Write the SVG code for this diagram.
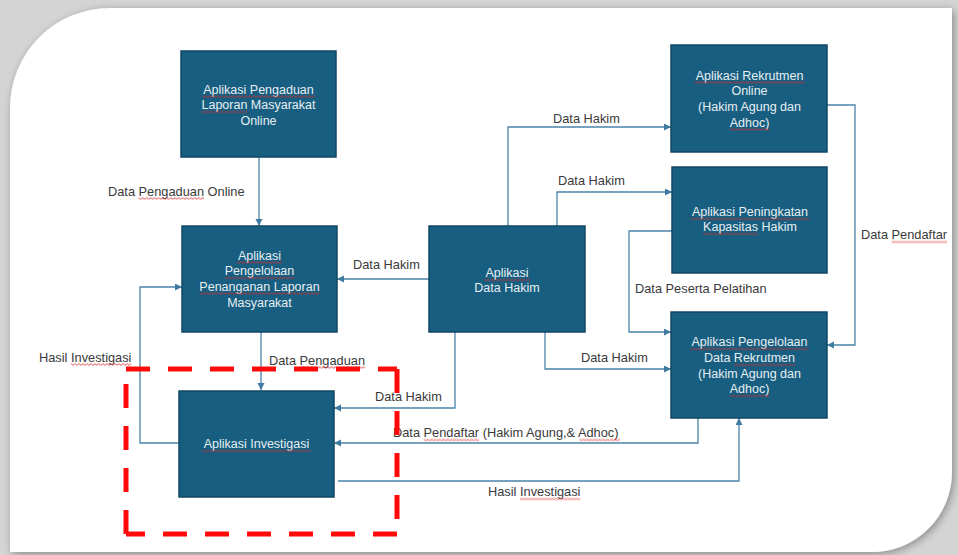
<svg xmlns="http://www.w3.org/2000/svg" width="958" height="555" viewBox="0 0 958 555">
<defs>
<filter id="sh" x="-5%" y="-5%" width="110%" height="110%">
<feGaussianBlur in="SourceAlpha" stdDeviation="4"/>
<feOffset dx="2" dy="2"/>
<feComponentTransfer><feFuncA type="linear" slope="0.35"/></feComponentTransfer>
<feMerge><feMergeNode/><feMergeNode in="SourceGraphic"/></feMerge>
</filter>
<marker id="ah" markerUnits="userSpaceOnUse" markerWidth="8" markerHeight="8" refX="7" refY="3.5" orient="auto">
<path d="M0,0 L7,3.5 L0,7 Z" fill="#3f7aa0"/>
</marker>
<pattern id="sq" width="4" height="3" patternUnits="userSpaceOnUse">
<path d="M0,0.6 L2,2.4 L4,0.6" fill="none" stroke="#e02828" stroke-width="0.8"/>
</pattern>
<style>
.box{fill:#175e80;stroke:#124764;stroke-width:1.5}
.bt{font-family:"Liberation Sans",Arial,sans-serif;font-size:12.5px;fill:#e8eef2;text-anchor:middle}
.lb{font-family:"Liberation Sans",Arial,sans-serif;font-size:12.8px;fill:#3a3a3a}
.cn{fill:none;stroke:#4a84aa;stroke-width:1.3;marker-end:url(#ah)}
.cn0{fill:none;stroke:#4a84aa;stroke-width:1.3}
.red{fill:none;stroke:#ff0a0a;stroke-width:5;stroke-dasharray:24 18}
</style>
</defs>
<rect x="0" y="0" width="958" height="555" fill="#d4d4d4"/>
<path d="M110,8 H958 V0 H958 V8 H952 V472 A80,80 0 0 1 872,552 H10 V108 A100,100 0 0 1 110,8 Z" fill="#ffffff" filter="url(#sh)"/>

<g id="connectors">
<path class="cn" d="M259,157 V226"/>
<path class="cn" d="M429,279 H337"/>
<path class="cn" d="M508,226 V127 H671"/>
<path class="cn" d="M557,226 V192 H672"/>
<path class="cn" d="M545,332 V369 H671"/>
<path class="cn" d="M455,332 V408 H334"/>
<path class="cn" d="M672,231 H629 V332 H671"/>
<path class="cn" d="M827,105 H855 V345 H827"/>
<path class="cn" d="M698,418 V443 H334"/>
<path class="cn" d="M338,481 H739 V418"/>
<path class="cn" d="M179,443 H140 V287 H182"/>
<path class="cn" d="M261,332 V390"/>
</g>

<g id="labels">
<text class="lb" x="108" y="195.5">Data Pengaduan Online</text>
<rect transform="translate(138.6,197)" width="65.5" height="3" fill="url(#sq)"/>
<text class="lb" x="353" y="268.5">Data Hakim</text>
<text class="lb" x="553" y="122.5">Data Hakim</text>
<text class="lb" x="558" y="184.5">Data Hakim</text>
<text class="lb" x="581" y="361.5">Data Hakim</text>
<text class="lb" x="375" y="400.5">Data Hakim</text>
<text class="lb" x="635" y="292.5">Data Peserta Pelatihan</text>
<text class="lb" x="861" y="239">Data Pendaftar</text>
<rect transform="translate(891.6,240.5)" width="55.5" height="3" fill="url(#sq)"/>
<text class="lb" x="393" y="437">Data Pendaftar (Hakim Agung,&amp; Adhoc)</text>
<rect transform="translate(423.6,438.5)" width="55.5" height="3" fill="url(#sq)"/>
<rect transform="translate(579.4,438.5)" width="40.5" height="3" fill="url(#sq)"/>
<text class="lb" x="488" y="496">Hasil Investigasi</text>
<rect transform="translate(520,497.5)" width="60.5" height="3" fill="url(#sq)"/>
<text class="lb" x="39" y="361.5">Hasil Investigasi</text>
<rect transform="translate(71,363)" width="60.5" height="3" fill="url(#sq)"/>
<text class="lb" x="269" y="364.5">Data Pengaduan</text>
<rect transform="translate(299.6,366)" width="65.5" height="3" fill="url(#sq)"/>
</g>

<g id="n-pengaduan">
<rect class="box" x="181" y="51" width="155" height="106"/>
<text class="bt" x="258.5" y="93.5">Aplikasi Pengaduan</text>
<text class="bt" x="258.5" y="109">Laporan Masyarakat</text>
<text class="bt" x="258.5" y="124.5">Online</text>
<rect transform="translate(201.9,95)" width="113.3" height="3" fill="url(#sq)"/>
<rect transform="translate(201.5,110.5)" width="45.9" height="3" fill="url(#sq)"/>
</g>

<g id="n-pengelolaan-laporan">
<rect class="box" x="182" y="226" width="155" height="106"/>
<text class="bt" x="259.5" y="259.5">Aplikasi</text>
<text class="bt" x="259.5" y="275">Pengelolaan</text>
<text class="bt" x="259.5" y="290.5">Penanganan Laporan</text>
<text class="bt" x="259.5" y="306.5">Masyarakat</text>
<rect transform="translate(236.6,261)" width="45.8" height="3" fill="url(#sq)"/>
<rect transform="translate(224.8,276.5)" width="69.5" height="3" fill="url(#sq)"/>
<rect transform="translate(199.4,292)" width="120.2" height="3" fill="url(#sq)"/>
</g>

<g id="n-data-hakim">
<rect class="box" x="429" y="226" width="156" height="106"/>
<text class="bt" x="507" y="277">Aplikasi</text>
<text class="bt" x="507" y="291.5">Data Hakim</text>
<rect transform="translate(484.1,278.5)" width="45.8" height="3" fill="url(#sq)"/>
</g>

<g id="n-rekrutmen-online">
<rect class="box" x="671" y="45" width="156" height="107"/>
<text class="bt" x="749.5" y="79.5">Aplikasi Rekrutmen</text>
<text class="bt" x="749.5" y="95">Online</text>
<text class="bt" x="749.5" y="111">(Hakim Agung dan</text>
<text class="bt" x="749.5" y="126.5">Adhoc)</text>
<rect transform="translate(694.3,81)" width="110.4" height="3" fill="url(#sq)"/>
<rect transform="translate(729.7,128)" width="39.6" height="3" fill="url(#sq)"/>
</g>

<g id="n-peningkatan">
<rect class="box" x="672" y="167" width="155" height="106"/>
<text class="bt" x="750" y="216">Aplikasi Peningkatan</text>
<text class="bt" x="750" y="231">Kapasitas Hakim</text>
<rect transform="translate(690.6,217.5)" width="118.8" height="3" fill="url(#sq)"/>
<rect transform="translate(703.1,232.5)" width="54.9" height="3" fill="url(#sq)"/>
</g>

<g id="n-pengelolaan-rekrutmen">
<rect class="box" x="671" y="312" width="156" height="106"/>
<text class="bt" x="749.5" y="346">Aplikasi Pengelolaan</text>
<text class="bt" x="749.5" y="362">Data Rekrutmen</text>
<text class="bt" x="749.5" y="377.5">(Hakim Agung dan</text>
<text class="bt" x="749.5" y="393">Adhoc)</text>
<rect transform="translate(690.1,347.5)" width="118.8" height="3" fill="url(#sq)"/>
<rect transform="translate(733.9,363.5)" width="61.1" height="3" fill="url(#sq)"/>
<rect transform="translate(729.7,394.5)" width="39.6" height="3" fill="url(#sq)"/>
</g>

<g id="n-investigasi">
<rect class="box" x="179" y="391" width="155" height="106"/>
<text class="bt" x="256.5" y="448">Aplikasi Investigasi</text>
<rect transform="translate(202.3,449.5)" width="108.4" height="3" fill="url(#sq)"/>
</g>

<g id="highlight">
<path class="red" d="M126,369 H397"/>
<path class="red" d="M397,369 V534"/>
<path class="red" d="M397,534 H126"/>
<path class="red" d="M126,534 V369"/>
</g>
</svg>
